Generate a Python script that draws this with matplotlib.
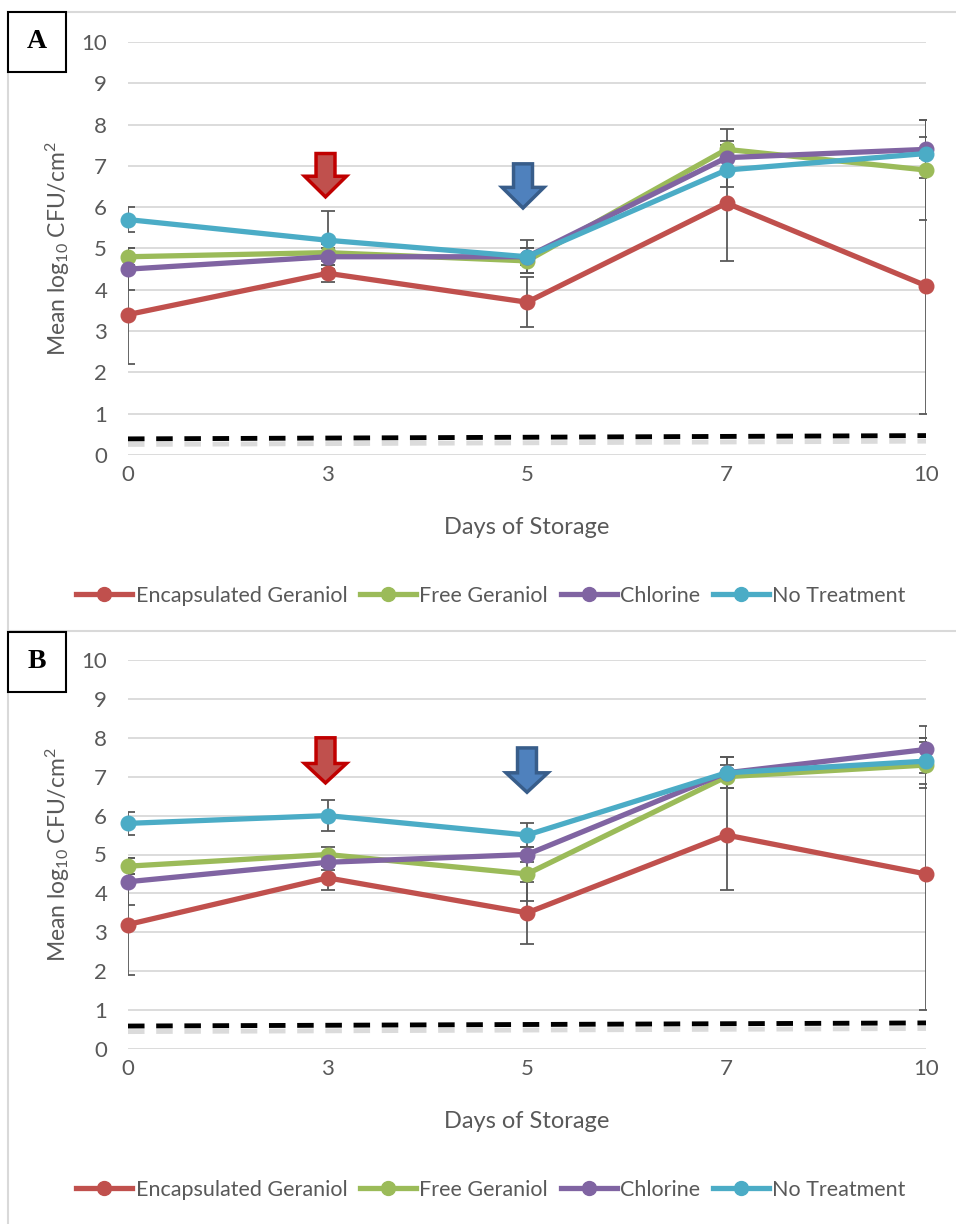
import numpy as np
import matplotlib
matplotlib.use('Agg')
import matplotlib.pyplot as plt
import matplotlib.patheffects as pe
from matplotlib.patches import FancyArrow, Rectangle
from matplotlib.lines import Line2D

plt.rcParams['font.family'] = ['Lato', 'DejaVu Sans']
plt.rcParams['mathtext.default'] = 'regular'

days = ['0', '3', '5', '7', '10']
names = ['Encapsulated Geraniol', 'Free Geraniol', 'Chlorine', 'No Treatment']
colors = ['#C0504D', '#9BBB59', '#8064A2', '#4BACC6']

# panel A means / errors
a_enc = [3.4, 4.4, 3.7, 6.1, 4.1]
a_free = [4.8, 4.9, 4.7, 7.4, 6.9]
a_chl = [4.5, 4.8, 4.8, 7.2, 7.4]
a_none = [5.7, 5.2, 4.8, 6.9, 7.3]
a_enc_err = [1.2, 0.2, 0.6, 1.4, 3.1]
a_free_err = [0.2, 0.2, 0.3, 0.5, 1.2]
a_chl_err = [0.5, 0.2, 0.2, 0.4, 0.7]
a_none_err = [0.3, 0.7, 0.4, 0.4, 0.4]
a_limit = [0.39, 0.47]

# panel B
b_enc = [3.2, 4.4, 3.5, 5.5, 4.5]
b_free = [4.7, 5.0, 4.5, 7.0, 7.3]
b_chl = [4.3, 4.8, 5.0, 7.1, 7.7]
b_none = [5.8, 6.0, 5.5, 7.1, 7.4]
b_enc_err = [1.3, 0.3, 0.8, 1.4, 3.5]
b_free_err = [0.2, 0.2, 0.7, 0.3, 0.6]
b_chl_err = [0.6, 0.2, 0.2, 0.4, 0.6]
b_none_err = [0.3, 0.4, 0.3, 0.4, 0.6]
b_limit = [0.59, 0.67]

# arrows: (day index, top, tip, fill, edge)
a_arrows = [(0.99, 7.3, 6.25, '#C0504D', '#C00000'), (1.98, 7.05, 5.98, '#4F81BD', '#385D8A')]
b_arrows = [(0.99, 8.0, 6.84, '#C0504D', '#C00000'), (2.0, 7.74, 6.6, '#4F81BD', '#385D8A')]

GRAY = '#595959'
x = np.arange(len(days))

fig = plt.figure(figsize=(9.56, 12.24), dpi=100)

# panel frames
fr = '#D9D9D9'
fig.add_artist(Line2D([8 / 956, 1], [1 - 12 / 1224] * 2, color=fr, lw=1.5, transform=fig.transFigure))
fig.add_artist(Line2D([8 / 956, 1], [1 - 631 / 1224] * 2, color=fr, lw=1.5, transform=fig.transFigure))
fig.add_artist(Line2D([8 / 956] * 2, [1 - 12 / 1224, 0], color=fr, lw=1.5, transform=fig.transFigure))


def panel(rect, series, errs, limit, arrows, letter, box_y, leg_y, xlab_y):
    ax = fig.add_axes(rect)
    ax.set_xlim(0, 4)
    ax.set_ylim(0, 10)
    ax.set_yticks(range(0, 11))
    ax.set_xticks(x)
    ax.set_xticklabels(days)
    ax.yaxis.grid(True, color='#D9D9D9', lw=1.3)
    ax.set_axisbelow(True)
    for s in ax.spines.values():
        s.set_visible(False)
    ax.tick_params(length=0, labelsize=16, colors=GRAY)
    ax.tick_params(axis='y', pad=15)
    ax.tick_params(axis='x', pad=7)
    ax.set_ylabel('Mean log$_{10}$ CFU/cm$^{2}$', fontsize=16.5, color=GRAY)
    ax.yaxis.set_label_coords(-0.07, 0.5)
    ax.set_xlabel('Days of Storage', fontsize=17, color=GRAY)
    ax.xaxis.set_label_coords(0.5, xlab_y)
    # detection limit
    ax.plot([0, 4], limit, color='black', lw=3.5, dashes=(3.4, 2.4), clip_on=False, zorder=2,
            path_effects=[pe.SimpleLineShadow(offset=(0, -4), shadow_color='#999999', alpha=0.35),
                          pe.Normal()])
    for vals, err in zip(series, errs):
        ax.errorbar(x, vals, yerr=err, fmt='none', ecolor=GRAY, elinewidth=1.3,
                    capsize=5, capthick=1.3, zorder=3)
    for vals, c, n in zip(series, colors, names):
        ax.plot(x, vals, color=c, lw=3.8, marker='o', ms=10.5, label=n, clip_on=False, zorder=4)
    for xi, top, tip, fc, ec in arrows:
        ax.add_patch(FancyArrow(xi, top, 0, tip - top, width=0.095, head_width=0.21,
                                head_length=0.5, length_includes_head=True,
                                fc=fc, ec=ec, lw=2.5, zorder=5))
    handles = [Line2D([], [], color=c, lw=3.8, marker='o', ms=10) for c in colors]
    ax.legend(handles, names, loc='center', bbox_to_anchor=(0.455, leg_y), ncol=4,
              frameon=False, fontsize=15.5, labelcolor=GRAY, handlelength=2.6,
              handletextpad=0.15, columnspacing=0.6)
    # letter box
    fig.add_artist(Rectangle((8 / 956, 1 - (box_y + 60) / 1224), 58 / 956, 60 / 1224,
                             transform=fig.transFigure, fc='white', ec='black', lw=1.5,
                             zorder=10))
    fig.text(37 / 956, 1 - (box_y + 30) / 1224, letter, ha='center', va='center',
             fontsize=20, fontweight='bold', family='Liberation Serif', zorder=11)
    return ax


panel([128 / 956, 1 - 455 / 1224, 798 / 956, 413 / 1224],
      [a_enc, a_free, a_chl, a_none], [a_enc_err, a_free_err, a_chl_err, a_none_err],
      a_limit, a_arrows, 'A', 12, -0.341, -0.150)
panel([128 / 956, 1 - 1049 / 1224, 798 / 956, 389 / 1224],
      [b_enc, b_free, b_chl, b_none], [b_enc_err, b_free_err, b_chl_err, b_none_err],
      b_limit, b_arrows, 'B', 632, -0.362, -0.160)

fig.savefig('out.png', dpi=100)
